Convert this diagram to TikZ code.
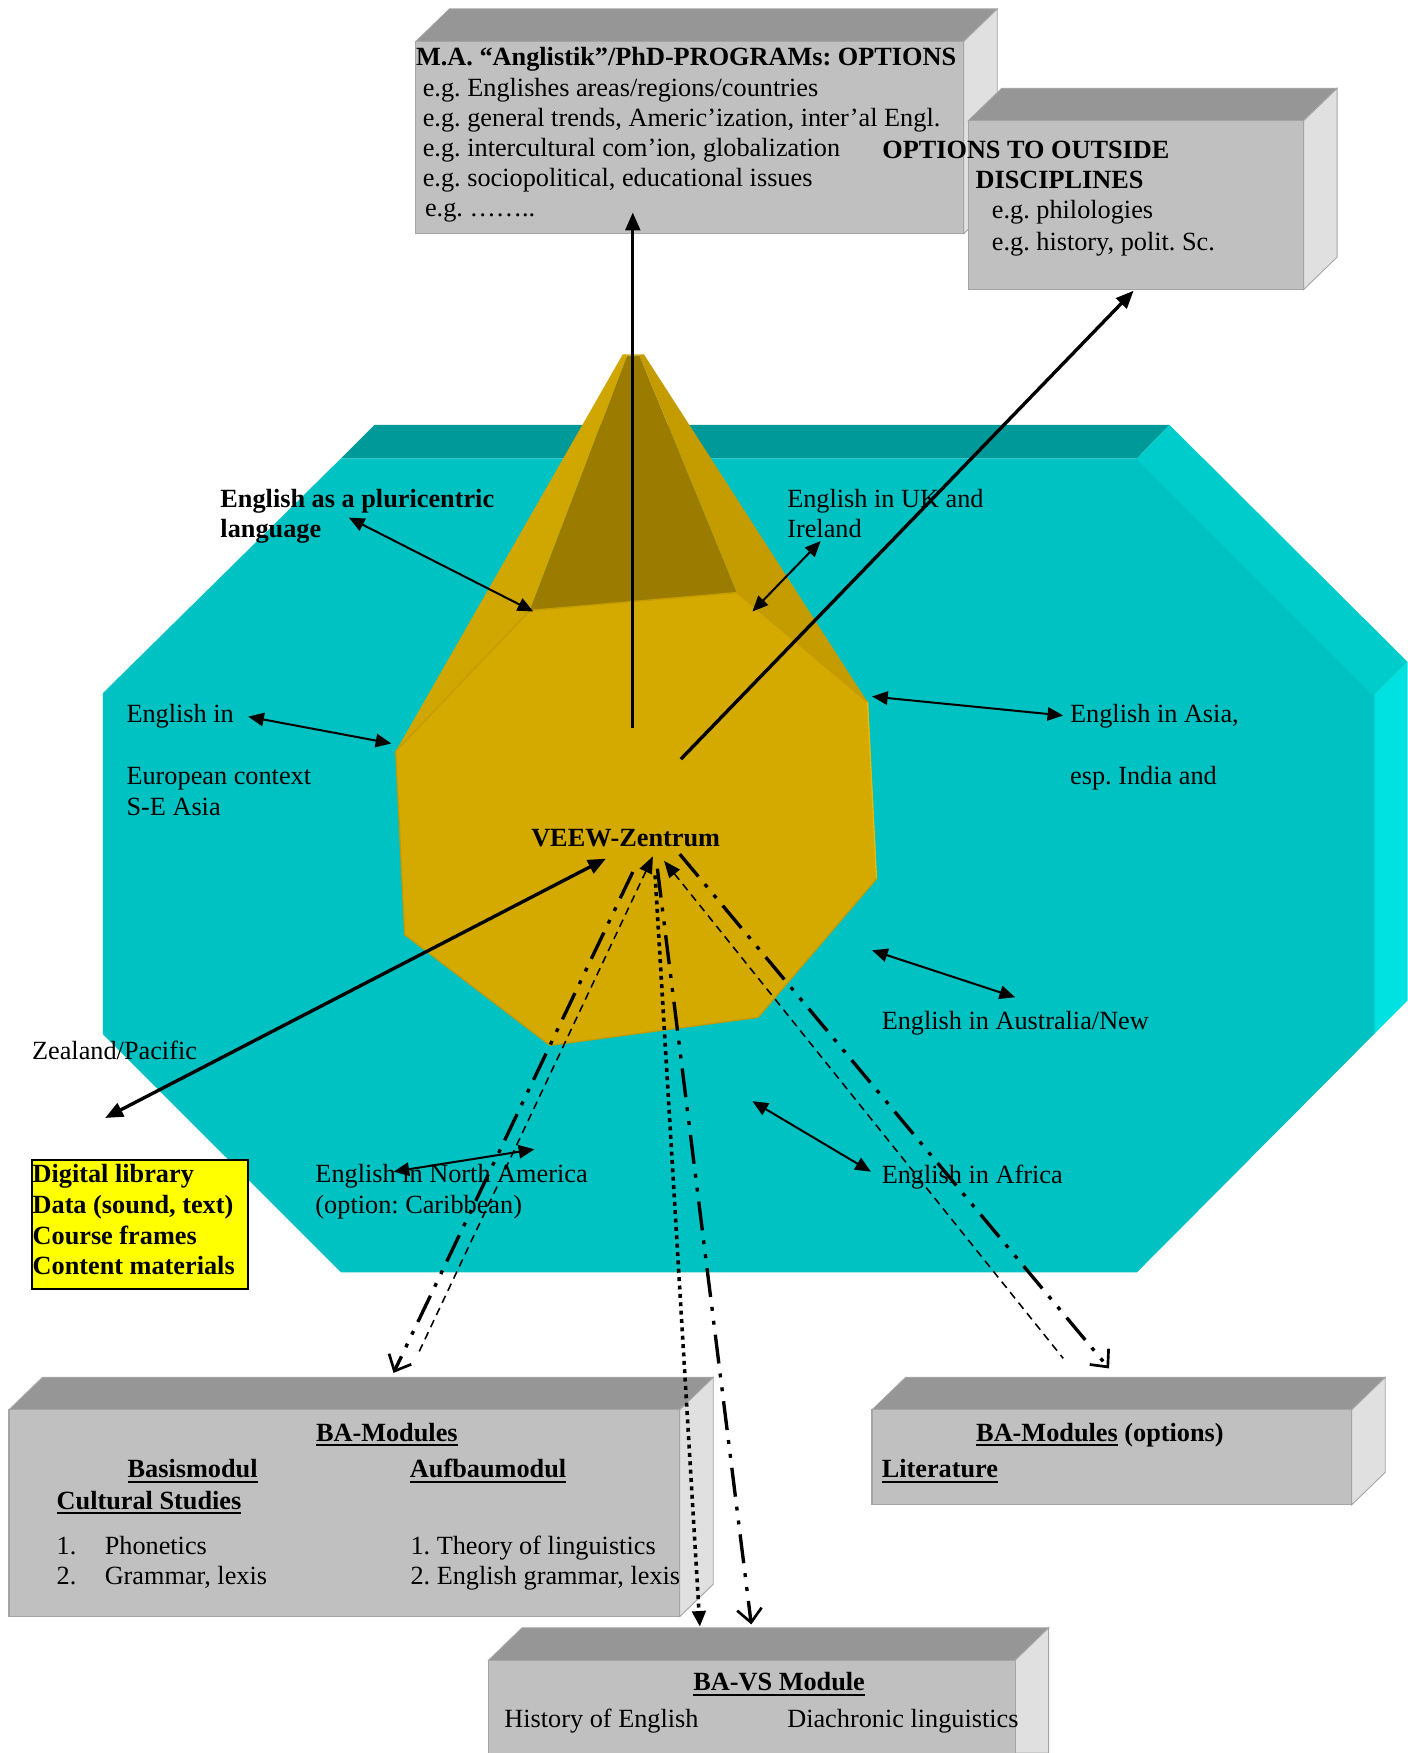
\documentclass[tikz,border=0pt]{standalone}
\usepackage{fontspec}
\setmainfont{Liberation Serif}
\usetikzlibrary{arrows.meta}
\frenchspacing
\definecolor{cyfront}{RGB}{0,194,194}
\definecolor{cytop}{RGB}{0,153,153}
\definecolor{cydiag}{RGB}{0,204,204}
\definecolor{cyright}{RGB}{0,226,226}
\definecolor{gdfront}{RGB}{212,170,0}
\definecolor{gdleft}{RGB}{208,166,0}
\definecolor{gdright}{RGB}{196,156,0}
\definecolor{gdback}{RGB}{156,124,0}
\definecolor{gdedge}{RGB}{196,156,0}
\definecolor{gdlight}{RGB}{230,186,0}
\definecolor{bxfront}{RGB}{192,192,192}
\definecolor{bxtop}{RGB}{150,150,150}
\definecolor{bxright}{RGB}{224,224,224}
\definecolor{bxedge}{RGB}{165,165,165}
\definecolor{ylw}{RGB}{255,255,0}
\newcommand{\fs}{\fontsize{23.5}{28}\selectfont\frenchspacing}
\newcommand{\ulx}[1]{\setbox0=\hbox{#1}\rlap{\rule[-4.5pt]{\wd0}{1.8pt}}\box0{}}
\newcommand{\gbox}[4]{%
  \fill[bxtop, draw=bxedge, line width=0.8pt] (#1,#2) -- (#1+30,#2-29) -- (#3+30,#2-29) -- (#3,#2) -- cycle;
  \fill[bxright, draw=bxedge, line width=0.8pt] (#3,#2) -- (#3+30,#2-29) -- (#3+30,#4-29) -- (#3,#4) -- cycle;
  \fill[bxfront, draw=bxedge, line width=1pt] (#1,#2) rectangle (#3,#4);
}
\tikzset{
  lbl/.style={anchor=base west, inner sep=0pt, font=\fs},
  blbl/.style={anchor=base west, inner sep=0pt, font=\fs\bfseries},
  bigarr/.style={line width=3pt, -{Triangle[length=16pt,width=13pt]}},
  bigdbl/.style={line width=3pt, {Triangle[length=16pt,width=13pt]}-{Triangle[length=16pt,width=13pt]}},
  smdbl/.style={line width=1.8pt, {Triangle[length=14pt,width=12pt]}-{Triangle[length=14pt,width=12pt]}},
  ddline/.style={line width=3pt, dash pattern=on 26pt off 9pt on 3.5pt off 9pt on 3.5pt off 9pt,
     -{Straight Barb[length=12pt,width=22pt,line width=2.4pt]}},
  thindash/.style={line width=1.4pt, dash pattern=on 7pt off 5pt, {Triangle[length=15pt,width=12pt]}-},
  dotline/.style={line width=3.2pt, dash pattern=on 3.5pt off 4pt, -{Triangle[length=14pt,width=12pt]}},
}
\begin{document}
\begin{tikzpicture}[x=1pt,y=-1pt]
\useasboundingbox (0,0) rectangle (1259,1568);
\fill[white] (0,0) rectangle (1259,1568);

% ---- cyan slab ----
\fill[cytop] (305,410) -- (335,380) -- (1046,380) -- (1017,410) -- cycle;
\fill[cydiag] (1017,410) -- (1046,380) -- (1259,592) -- (1229,622) -- cycle;
\fill[cyright] (1229,622) -- (1259,592) -- (1259,895) -- (1229,925) -- cycle;
\fill[cyfront] (305,410) -- (1017,410) -- (1229,622) -- (1229,925) -- (1017,1138) -- (305,1138) -- (92,925) -- (92,620) -- cycle;
\draw[cydiag, line width=1pt] (1017,410) -- (1229,622) -- (1229,925);

% ---- pyramid ----
\fill[gdleft] (557,317) -- (354,672) -- (474,546) -- (561,318) -- cycle;
\fill[gdback] (561,318) -- (474,546) -- (659,530) -- (572,318) -- cycle;
\fill[gdright] (572,318) -- (659,530) -- (776,628) -- (576,317) -- cycle;
\fill[gdleft] (557,317) -- (561,318) -- (572,318) -- (576,317) -- cycle;
\fill[gdfront] (354,672) -- (474,546) -- (659,530) -- (776,628) -- (784,786) -- (678,910) -- (492,935) -- (362,836) -- cycle;
\draw[gdedge, line width=1.2pt] (354,672) -- (474,546) -- (659,530) -- (776,628);
\draw[gdedge, line width=1.2pt] (784,786) -- (678,910) -- (492,935) -- (362,836) -- (354,672);
\draw[gdlight, line width=1.2pt] (776,628) -- (784,786);

% ---- grey boxes ----
\gbox{372}{37}{862}{209}
\gbox{866}{108}{1166}{259}
\gbox{8}{1261}{608}{1446}
\gbox{780}{1261}{1209}{1346}
\fill[bxtop, draw=bxedge, line width=0.8pt] (437,1485) -- (467,1456) -- (938,1456) -- (908,1485) -- cycle;
\fill[bxright, draw=bxedge, line width=0.8pt] (908,1485) -- (938,1456) -- (938,1568) -- (908,1568) -- cycle;
\fill[bxfront, draw=bxedge, line width=1pt] (437,1568) -- (437,1485) -- (908,1485) -- (908,1568);

% ---- yellow box ----
\node[draw=black, line width=1.6pt, fill=ylw, minimum width=193pt, minimum height=115pt, inner sep=0pt, anchor=north west] (dl) at (28,1037) {};
\node[blbl] (dl1) at (29,1058) {Digital library};
\node[blbl] (dl2) at (29,1085) {Data (sound, text)};
\node[blbl] (dl3) at (29,1113) {Course frames};
\node[blbl] (dl4) at (29,1140) {Content materials};

% ---- MA box text ----
\node[blbl] (ma0) at (372,59) {M.A. “Anglistik”/PhD-PROGRAMs: OPTIONS};
\node[lbl] (ma1) at (378,86.5) {e.g. Englishes areas/regions/countries};
\node[lbl] (ma2) at (378,113) {e.g. general trends, Americ’ization, inter’al Engl.};
\node[lbl] (ma3) at (378,140) {e.g. intercultural com’ion, globalization};
\node[lbl] (ma4) at (378,167) {e.g. sociopolitical, educational issues};
\node[lbl] (ma5) at (380,194) {e.g. ……..};
% ---- outside disciplines ----
\node[blbl] (od0) at (789,141.5) {OPTIONS TO OUTSIDE};
\node[blbl] (od1) at (872.5,169) {DISCIPLINES};
\node[lbl] (od2) at (887,195.5) {e.g. philologies};
\node[lbl] (od3) at (887,224) {e.g. history, polit. Sc.};

% ---- slab labels ----
\node[blbl] (pl1) at (197,454) {English as a pluricentric};
\node[blbl] (pl2) at (197,481) {language};
\node[lbl] (uk1) at (704,454) {English in UK and};
\node[lbl] (uk2) at (704,481) {Ireland};
\node[lbl] (eu1) at (113,646) {English in};
\node[lbl] (eu2) at (113,701.5) {European context};
\node[lbl] (eu3) at (113,729) {S-E Asia};
\node[lbl] (as1) at (957,646.5) {English in Asia,};
\node[lbl] (as2) at (957,702) {esp. India and};
\node[blbl] (veew) at (475,757) {VEEW-Zentrum};
\node[lbl] (au1) at (788.5,921) {English in Australia/New};
\node[lbl] (au2) at (28.5,948) {Zealand/Pacific};
\node[lbl] (na1) at (282,1058) {English in North America};
\node[lbl] (na2) at (282,1085) {(option: Caribbean)};
\node[lbl] (af1) at (788.5,1058.5) {English in Africa};

% ---- BA-Modules ----
\node[blbl] (ba0) at (282.5,1289) {\ulx{BA-Modules}};
\node[blbl] (ba1) at (114,1322) {\ulx{Basismodul}};
\node[blbl] (ba2) at (366.5,1322) {\ulx{Aufbaumodul}};
\node[blbl] (ba3) at (50.5,1350) {\ulx{Cultural Studies}};
\node[lbl] (ba4) at (50.5,1390.5) {1.};
\node[lbl] (ba5) at (93.5,1390.5) {Phonetics};
\node[lbl] (ba6) at (50.5,1417.5) {2.};
\node[lbl] (ba7) at (93.5,1417.5) {Grammar, lexis};
\node[lbl] (ba8) at (367,1390.5) {1. Theory of linguistics};
\node[lbl] (ba9) at (367,1417.5) {2. English grammar, lexis};
% options
\node[blbl] (bo0) at (873,1289) {\ulx{BA-Modules} (options)};
\node[blbl] (bo1) at (788.5,1322) {\ulx{Literature}};
% VS
\node[blbl] (vs0) at (620,1512.5) {\ulx{BA-VS Module}};
\node[lbl] (vs1) at (451,1545.5) {History of English};
\node[lbl] (vs2) at (704,1545.5) {Diachronic linguistics};

% ---- connector coordinates ----
\coordinate (cV) at (566,651);
\coordinate (cMA) at (566,190);
\coordinate (cD) at (609,679);
\coordinate (cOD) at (1014,260);
\coordinate (cVL) at (542,768);
\coordinate (cDL) at (94,1000);
\coordinate (pA) at (312,463);
\coordinate (pB) at (477,547);
\coordinate (uA) at (734,484);
\coordinate (uB) at (673,547);
\coordinate (eA) at (222,641);
\coordinate (eB) at (350,665);
\coordinate (sA) at (780,623);
\coordinate (sB) at (951,640);
\coordinate (aA) at (780,850);
\coordinate (aB) at (908,892);
\coordinate (fA) at (673,985);
\coordinate (fB) at (779,1048);
\coordinate (nA) at (352,1048);
\coordinate (nB) at (478,1028);
% dashed lines
\coordinate (lddTop) at (566,780);
\coordinate (lddEnd) at (352,1228);
\coordinate (ldsTip) at (584,766);
\coordinate (ldsEnd) at (373,1213);
\coordinate (dotTop) at (586,783);
\coordinate (dotEnd) at (626,1455);
\coordinate (vddTop) at (588,777);
\coordinate (vddEnd) at (672,1453);
\coordinate (rdsTip) at (594,770);
\coordinate (rdsEnd) at (951,1215);
\coordinate (rddTop) at (608,764);
\coordinate (rddEnd) at (992,1224);

% ---- connectors ----
\draw[bigarr] (cV) -- (cMA);
\draw[bigarr] (cD) -- (cOD);
\draw[bigdbl] (cVL) -- (cDL);
\draw[smdbl] (pA) -- (pB);
\draw[smdbl] (uA) -- (uB);
\draw[smdbl] (eA) -- (eB);
\draw[smdbl] (sA) -- (sB);
\draw[smdbl] (aA) -- (aB);
\draw[smdbl] (fA) -- (fB);
\draw[smdbl] (nA) -- (nB);
\draw[ddline] (lddTop) -- (lddEnd);
\draw[thindash] (ldsTip) -- (ldsEnd);
\draw[dotline] (dotTop) -- (dotEnd);
\draw[ddline] (vddTop) -- (vddEnd);
\draw[thindash] (rdsTip) -- (rdsEnd);
\draw[ddline] (rddTop) -- (rddEnd);
\end{tikzpicture}
\end{document}
